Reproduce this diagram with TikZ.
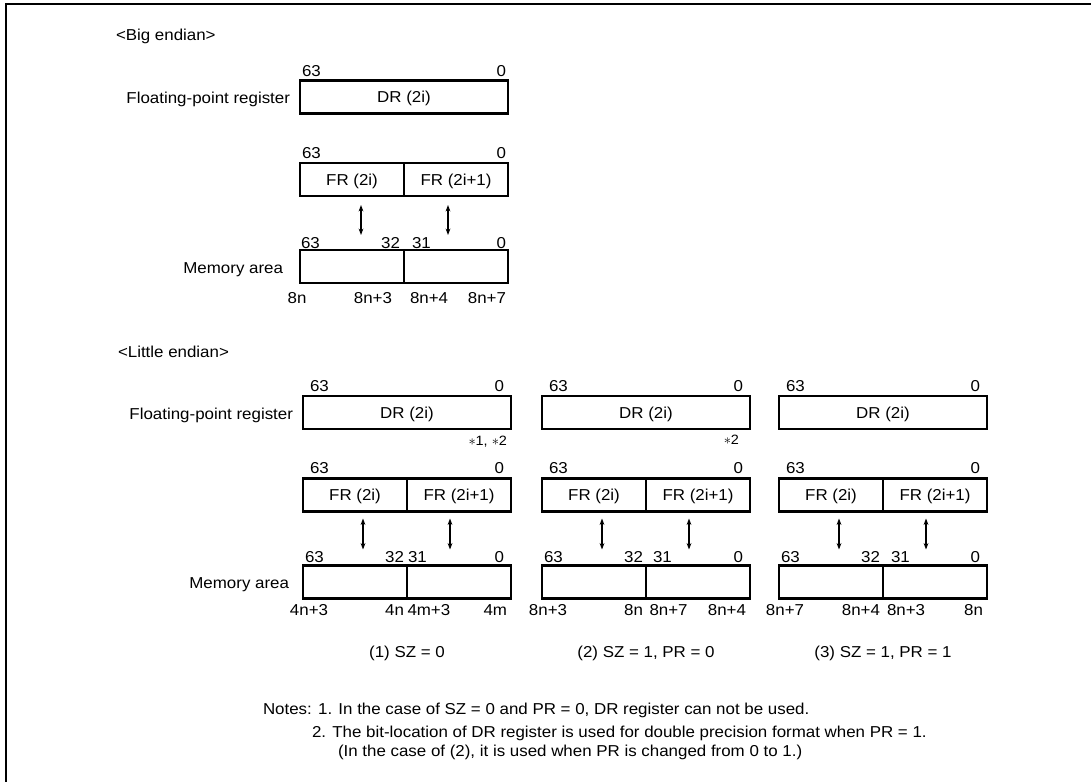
\documentclass[tikz,border=0pt]{standalone}
\usepackage{fontspec}
\setmainfont[FakeStretch=1.07]{Liberation Sans}
\usetikzlibrary{arrows.meta,calc}
\begin{document}
\begin{tikzpicture}[x=1pt,y=-1pt,
  every node/.style={font=\fontsize{15.8}{18}\selectfont, inner sep=0pt, outer sep=0pt, text height=11.3pt, text depth=0pt},
  reg/.style={draw, line width=2.3pt, minimum height=33pt, minimum width=208pt},
  half/.style={draw, line width=2.3pt, minimum height=33pt, minimum width=104pt},
  arr/.style={{Stealth[length=6.5pt,width=4.8pt]}-{Stealth[length=6.5pt,width=4.8pt]}, line width=1.1pt},
  star/.style={font=\fontsize{13.5}{15}\selectfont, text height=9pt},
  frame/.style={line width=2pt}]
\useasboundingbox (0,0) rectangle (1091,782);
% frame
\coordinate (ftr) at (1091,4);
\coordinate (ftl) at (6,4);
\coordinate (fbl) at (6,782);
\draw[frame] (ftr) -- (ftl) -- (fbl);

% ---------- Big endian ----------
\node[anchor=west] (bigtitle) at (116,35) {<Big endian>};
\node[anchor=east] (bfpr) at (290,98) {Floating-point register};
\node[reg] (bdr) at (404,97) {DR (2i)};
\node[anchor=west] (bt63) at (302,71) {63};
\node[anchor=east] (bt0) at (506,71) {0};
\node[half] (bfl) at (352,179.5) {FR (2i)};
\node[half] (bfr) at (456,179.5) {FR (2i+1)};
\node[anchor=west] (bf63) at (302,153) {63};
\node[anchor=east] (bf0) at (506,153) {0};
\node[half] (bml) at (352,266.5) {};
\node[half] (bmr) at (456,266.5) {};
\node[anchor=east] (bmem) at (283,268) {Memory area};
\node[anchor=west] (bm63) at (301,243) {63};
\node[anchor=east] (bm32) at (400,243) {32};
\node[anchor=west] (bm31) at (412,243) {31};
\node[anchor=east] (bm0) at (506,243) {0};
\node (bba) at (297,298) {8n};
\node[anchor=east] (bbb) at (392,298) {8n+3};
\node[anchor=west] (bbc) at (410,298) {8n+4};
\node[anchor=east] (bbd) at (506,298) {8n+7};
\draw[arr] ($(bfl.south)+(9,9)$) -- ($(bml.north)+(9,-15)$);
\draw[arr] ($(bfr.south)+(-8,9)$) -- ($(bmr.north)+(-8,-15)$);

% ---------- Little endian ----------
\node[anchor=west] (littitle) at (118,352) {<Little endian>};
\node[anchor=east] (lfpr) at (293,414) {Floating-point register};
\node[anchor=east] (lmem) at (289,583) {Memory area};

\foreach \c/\xo/\la/\lb/\lc/\ld/\g in {a/303/4n+3/4n/4m+3/4m/1, b/542/8n+3/8n/8n+7/8n+4/7, c/779/8n+7/8n+4/8n+3/8n/8}{
  \node[reg] (\c dr) at (\xo+104,412.5) {DR (2i)};
  \node[anchor=west] (\c t63) at (\xo+7,386) {63};
  \node[anchor=east] (\c t0) at (\xo+201,386) {0};
  \node[half] (\c fl) at (\xo+52,495) {FR (2i)};
  \node[half] (\c fr) at (\xo+156,495) {FR (2i+1)};
  \node[anchor=west] (\c f63) at (\xo+7,468) {63};
  \node[anchor=east] (\c f0) at (\xo+201,468) {0};
  \node[half] (\c ml) at (\xo+52,582) {};
  \node[half] (\c mr) at (\xo+156,582) {};
  \node[anchor=west] (\c m63) at (\xo+2,557) {63};
  \node[anchor=east] (\c m32) at (\xo+101,557) {32};
  \node[anchor=west] (\c m31) at (\xo+104+\g,557) {31};
  \node[anchor=east] (\c m0) at (\xo+201,557) {0};
  \node (\c ba) at (\xo+6,610) {\la};
  \node[anchor=east] (\c bb) at (\xo+101,610) {\lb};
  \node[anchor=west] (\c bc) at (\xo+104+\g/2,610) {\lc};
  \node[anchor=east] (\c bd) at (\xo+204,610) {\ld};
  \draw[arr] ($(\c fl.south)+(8,7)$) -- ($(\c ml.north)+(8,-16)$);
  \draw[arr] ($(\c fr.south)+(-9,7)$) -- ($(\c mr.north)+(-9,-16)$);
}
\node[anchor=east, star] (sa) at (507,441) {$\ast$1, $\ast$2};
\node[anchor=east, star] (sb) at (739,440) {$\ast$2};

\node (capa) at (407,652) {(1) SZ = 0};
\node (capb) at (646,652) {(2) SZ = 1, PR = 0};
\node (capc) at (883,652) {(3) SZ = 1, PR = 1};

\node[anchor=west] (n1) at (263,709) {Notes: 1. In the case of SZ = 0 and PR = 0, DR register can not be used.};
\node[anchor=west] (n2) at (312,732) {2. The bit-location of DR register is used for double precision format when PR = 1.};
\node[anchor=west] (n3) at (338,751) {(In the case of (2), it is used when PR is changed from 0 to 1.)};
\end{tikzpicture}
\end{document}
